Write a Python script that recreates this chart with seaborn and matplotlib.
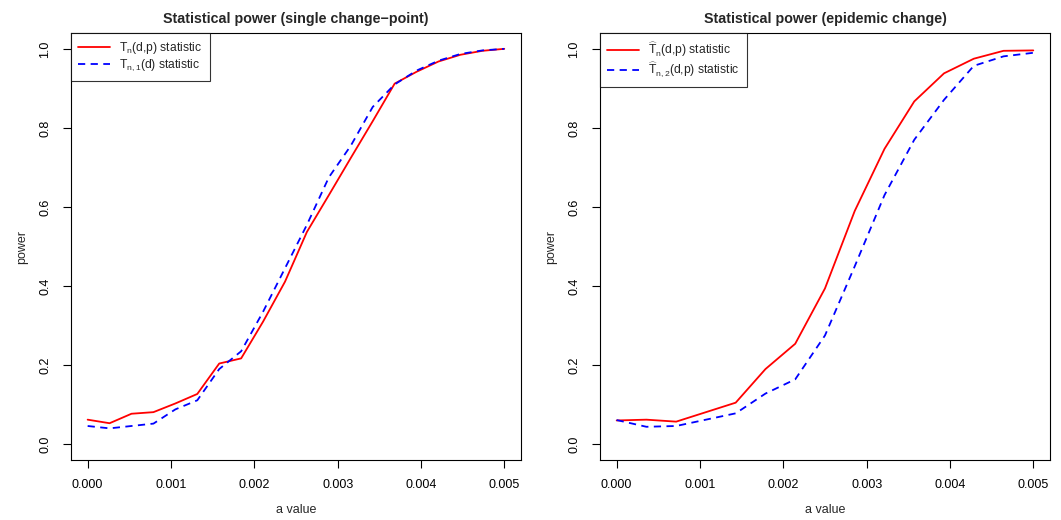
import numpy as np
import pandas as pd
import matplotlib
matplotlib.use("Agg")
import matplotlib.pyplot as plt
import seaborn as sns

# === DATA ===
a_single = np.linspace(0, 0.005, 20)
power_tn_single = [0.062, 0.053, 0.077, 0.081, 0.103, 0.127, 0.204, 0.217, 0.31, 0.411,
                   0.537, 0.63, 0.724, 0.817, 0.912, 0.942, 0.968, 0.985, 0.995, 1.0]
power_tn1_single = [0.046, 0.040, 0.046, 0.052, 0.088, 0.111, 0.19, 0.235, 0.335, 0.445,
                    0.555, 0.675, 0.755, 0.853, 0.91, 0.945, 0.97, 0.987, 0.996, 1.0]

a_epidemic = np.linspace(0, 0.005, 15)
power_tn_epi = [0.060, 0.062, 0.057, 0.081, 0.105, 0.19, 0.254, 0.394, 0.59, 0.747,
                0.867, 0.938, 0.975, 0.995, 0.996]
power_tn2_epi = [0.061, 0.044, 0.046, 0.062, 0.078, 0.128, 0.164, 0.275, 0.45, 0.63,
                 0.77, 0.871, 0.957, 0.981, 0.99]

titles = ["Statistical power (single change\u2212point)", "Statistical power (epidemic change)"]
labels_single = [r"T$_{\mathrm{n}}$(d,p) statistic", r"T$_{\mathrm{n,1}}$(d) statistic"]
labels_epi = [r"$\widehat{\mathrm{T}}_{\mathrm{n}}$(d,p) statistic",
              r"$\widehat{\mathrm{T}}_{\mathrm{n,2}}$(d,p) statistic"]
x_ticks = [0.000, 0.001, 0.002, 0.003, 0.004, 0.005]
y_ticks = [0.0, 0.2, 0.4, 0.6, 0.8, 1.0]

# === Style ===
sns.set_style("white")
plt.rcParams["font.family"] = ["Liberation Sans", "DejaVu Sans"]
plt.rcParams["mathtext.fontset"] = "custom"
plt.rcParams["mathtext.rm"] = "Liberation Sans"
plt.rcParams["mathtext.it"] = "Liberation Sans:italic"
plt.rcParams["mathtext.bf"] = "Liberation Sans:bold"

fig = plt.figure(figsize=(10.61, 5.2), dpi=100)
ax1 = fig.add_axes([0.0669, 0.1154, 0.4241, 0.8211])
ax2 = fig.add_axes([0.5655, 0.1154, 0.4241, 0.8211])

panels = [
    (ax1, a_single, power_tn_single, power_tn1_single, labels_single, titles[0]),
    (ax2, a_epidemic, power_tn_epi, power_tn2_epi, labels_epi, titles[1]),
]

for ax, a, p1, p2, labs, title in panels:
    sns.lineplot(x=a, y=p1, ax=ax, color="#ff0000", lw=1.3, label=labs[0])
    sns.lineplot(x=a, y=p2, ax=ax, color="#0000ff", lw=1.3, linestyle=(0, (4, 3)), label=labs[1])
    ax.set_xlim(-0.0002, 0.0052)
    ax.set_ylim(-0.04, 1.04)
    ax.set_xticks(x_ticks)
    ax.set_xticklabels([f"{t:.3f}" for t in x_ticks])
    ax.set_yticks(y_ticks)
    ax.set_yticklabels([f"{t:.1f}" for t in y_ticks], rotation=90, va="center")
    ax.tick_params(axis="both", direction="out", length=6, width=0.8, colors="black",
                   labelsize=9, pad=8, bottom=True, left=True)
    for s in ax.spines.values():
        s.set_color("black")
        s.set_linewidth(0.8)
    ax.set_title(title, fontsize=10.3, fontweight="bold", pad=7)
    ax.set_xlabel("a value", fontsize=9, labelpad=9)
    ax.set_ylabel("power", fontsize=9, labelpad=8)
    leg = ax.legend(loc="upper left", fontsize=8.7, frameon=True, fancybox=False,
                    borderaxespad=0, handlelength=2.6, borderpad=0.6, labelspacing=0.12,
                    edgecolor="black")
    leg.get_frame().set_linewidth(0.8)

fig.savefig("out.png", dpi=100)
